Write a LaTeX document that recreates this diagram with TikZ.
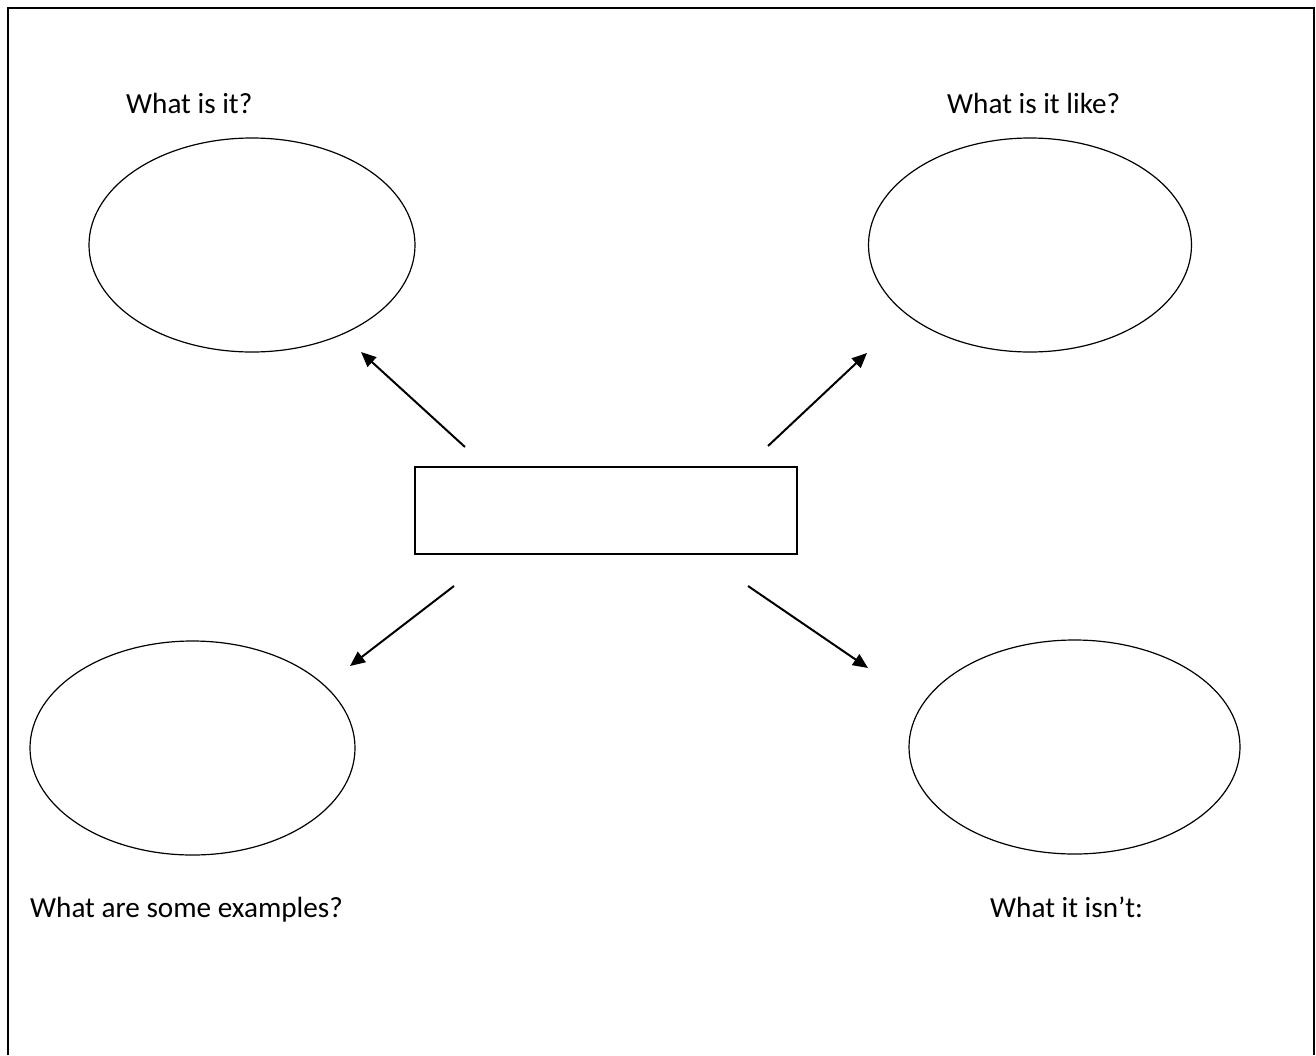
\documentclass[tikz,border=0pt]{standalone}
\usepackage{fontspec}
\setmainfont{Carlito}
\usepackage{tikz}
\usetikzlibrary{arrows.meta,positioning,shapes.geometric}
\tikzset{
  bubble/.style={draw,ellipse,line width=1.2pt,inner sep=0pt,minimum width=326pt,minimum height=214pt},
  topic/.style={draw,line width=1.4pt,inner sep=0pt,minimum width=382pt,minimum height=87pt},
  cue/.style={anchor=base west,inner sep=0pt,font=\fontsize{29.2}{33}\selectfont},
  arr/.style={-{Triangle[length=15pt,width=13pt]},line width=2pt},
}
\begin{document}
\begin{tikzpicture}[x=1pt,y=-1pt]
\useasboundingbox (0,0) rectangle (1316,1055);
\draw[line width=2pt] (8,1055) -- (8,8) -- (1314,8) -- (1314,1055);
% centre and the four bubbles
\node[topic] (mid) at (606,510.5) {};
\node[bubble] (what) at (252,245) {};
\node[bubble,minimum width=323pt] (like) at (1030,245) {};
\node[bubble,minimum width=325pt] (ex) at (192.5,748) {};
\node[bubble,minimum width=331pt] (isnt) at (1074.5,747) {};
% cues
\node[cue] (whatlbl) at (126,113) {What is it?};
\node[cue] (likelbl) at (947,113) {What is it like?};
\node[cue] (exlbl) at (30,917) {What are some examples?};
\node[cue] (isntlbl) at (990,917) {What it isn’t:};
% arrow ends
\coordinate (a1) at (465,447); \coordinate (b1) at (361,352);
\coordinate (a2) at (768,446); \coordinate (b2) at (867,353);
\coordinate (a3) at (454,586); \coordinate (b3) at (350,666);
\coordinate (a4) at (748,586); \coordinate (b4) at (868,668);
\draw[arr] (a1)--(b1); \draw[arr] (a2)--(b2);
\draw[arr] (a3)--(b3); \draw[arr] (a4)--(b4);
\end{tikzpicture}
\end{document}
